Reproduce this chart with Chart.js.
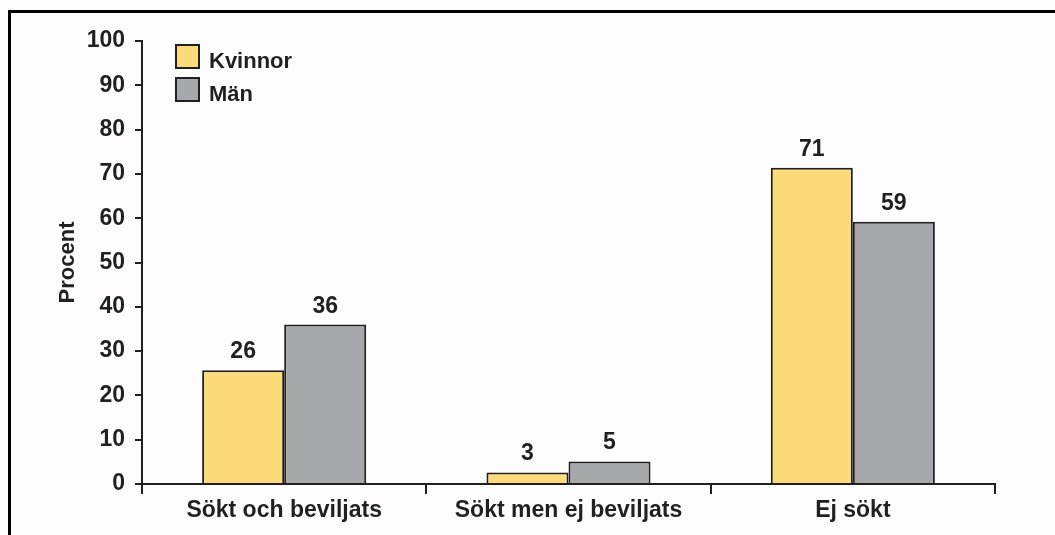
<!DOCTYPE html>
<html>
<head>
<meta charset="utf-8">
<script src="https://cdn.jsdelivr.net/npm/chart.js@4/dist/chart.umd.min.js"></script>
<style>
  html, body { margin: 0; padding: 0; background: #fdfdfd; }
  #wrap { position: relative; width: 1055px; height: 535px; overflow: hidden; }
  #frame {
    position: absolute; left: 8px; top: 10px; width: 1100px; height: 600px;
    border-top: 3px solid #000; border-left: 3px solid #000; box-sizing: border-box;
  }
  canvas { position: absolute; left: 0; top: 0; }
</style>
</head>
<body>
<div id="wrap">
  <div id="frame"></div>
  <canvas id="chart" width="1055" height="535"></canvas>
</div>
<script>
// Data
const categories = ['Sökt och beviljats', 'Sökt men ej beviljats', 'Ej sökt'];
const kvinnor = [25.7, 2.6, 71.4];
const man = [36.0, 5.1, 59.2];
const seriesNames = ['Kvinnor', 'Män'];
const yTicks = [0, 10, 20, 30, 40, 50, 60, 70, 80, 90, 100];

const INK = '#231f20';
const FONT = '"Liberation Sans", Arial, Helvetica, sans-serif';
const colors = ['#fddb7b', '#a7a8ab'];

/**
 * Value labels above each bar
 */
const valueLabels = {
  id: 'valueLabels',
  afterDatasetsDraw(chart) {
    const ctx = chart.ctx;
    ctx.save();
    ctx.font = `bold 23px ${FONT}`;
    ctx.fillStyle = INK;
    ctx.textAlign = 'center';
    ctx.textBaseline = 'alphabetic';
    chart.data.datasets.forEach((ds, i) => {
      chart.getDatasetMeta(i).data.forEach((bar, j) => {
        ctx.fillText(String(Math.round(ds.data[j])), bar.x, bar.y - 12);
      });
    });
    ctx.restore();
  }
};

/**
 * Legend boxes in the top left of the plot area
 */
const boxLegend = {
  id: 'boxLegend',
  afterDraw(chart) {
    const ctx = chart.ctx;
    ctx.save();
    ctx.font = `bold 22px ${FONT}`;
    ctx.textBaseline = 'alphabetic';
    ctx.textAlign = 'left';
    chart.data.datasets.forEach((ds, i) => {
      const x = 176;
      const y = 45 + i * 33;
      ctx.fillStyle = ds.backgroundColor;
      ctx.fillRect(x, y, 23, 23);
      ctx.strokeStyle = INK;
      ctx.lineWidth = 2;
      ctx.strokeRect(x, y, 23, 23);
      ctx.fillStyle = INK;
      ctx.fillText(ds.label, x + 33, y + 23);
    });
    ctx.restore();
  }
};

new Chart(document.getElementById('chart'), {
  type: 'bar',
  data: {
    labels: categories,
    datasets: [
      { label: seriesNames[0], data: kvinnor, backgroundColor: colors[0] },
      { label: seriesNames[1], data: man, backgroundColor: colors[1] }
    ].map(ds => Object.assign(ds, {
      borderColor: INK,
      borderWidth: 2,
      borderSkipped: 'bottom',
      categoryPercentage: 0.577,
      barPercentage: 1.0
    }))
  },
  options: {
    responsive: false,
    animation: false,
    layout: { padding: { left: 55, right: 60, top: 41, bottom: 0 } },
    plugins: {
      legend: { display: false },
      tooltip: { enabled: false }
    },
    scales: {
      x: {
        offset: true,
        grid: {
          offset: true,
          drawOnChartArea: false,
          drawTicks: true,
          tickLength: 10,
          color: INK,
          lineWidth: 2
        },
        border: { color: INK, width: 2 },
        ticks: {
          color: INK,
          font: { family: FONT, size: 23, weight: 'bold' },
          padding: 3
        },
        afterFit(scale) { scale.height = 51; }
      },
      y: {
        min: 0,
        max: 100,
        afterBuildTicks(scale) { scale.ticks = yTicks.map(v => ({ value: v })); },
        grid: {
          drawOnChartArea: false,
          drawTicks: true,
          tickLength: 7,
          color: INK,
          lineWidth: 2
        },
        border: { color: INK, width: 2 },
        ticks: {
          color: INK,
          font: { family: FONT, size: 23, weight: 'bold' },
          padding: 10
        },
        title: {
          display: true,
          text: 'Procent',
          color: INK,
          font: { family: FONT, size: 22, weight: 'bold' },
          padding: 0
        },
        afterFit(scale) { scale.width = 87; }
      }
    }
  },
  plugins: [valueLabels, boxLegend]
});
</script>
</body>
</html>
